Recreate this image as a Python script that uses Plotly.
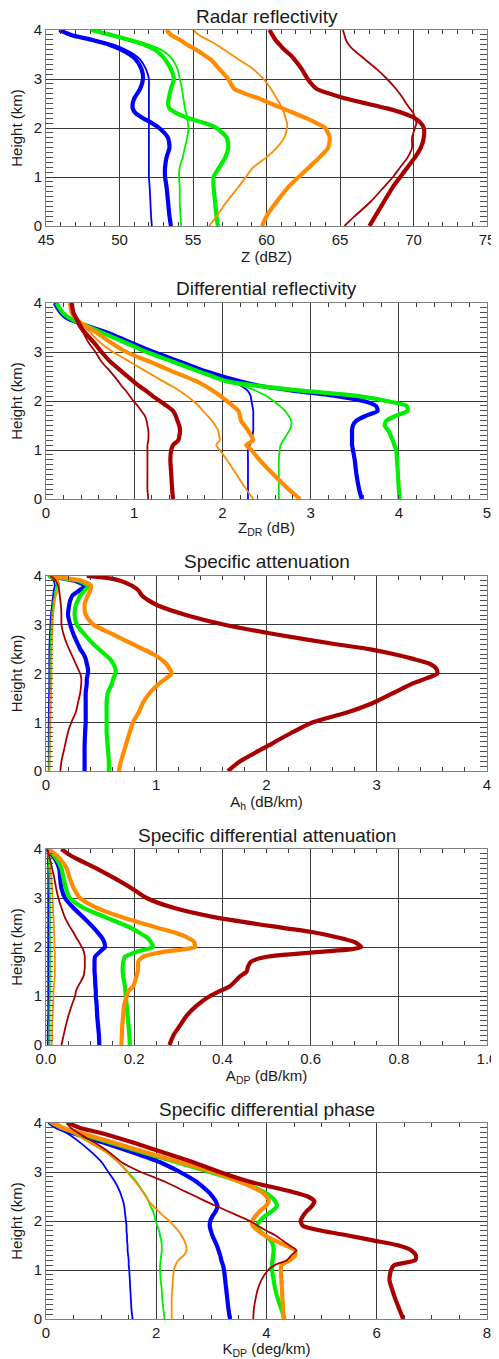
import plotly.graph_objects as go

# ---------------- Panel 1: Radar reflectivity (dBZ) ----------------
Z_HEIGHT = [4.0, 3.9, 3.8, 3.7, 3.6, 3.5, 3.4, 3.2, 3.0, 2.8, 2.6, 2.5, 2.4, 2.3, 2.2, 2.1, 2.0,
            1.8, 1.6, 1.4, 1.2, 1.0, 0.8, 0.5, 0.2, 0.0]
Z_BLUE_THIN = [45.9, 46.9, 48.3, 49.6, 50.4, 51.0, 51.4, 51.8, 52.0, 52.0, 52.0, 52.0, 52.0, 52.0, 52.0, 52.0, 52.0,
               52.0, 52.0, 52.0, 52.0, 52.0, 52.05, 52.1, 52.15, 52.2]
Z_BLUE_THICK = [45.9, 46.7, 48.1, 49.3, 50.1, 50.7, 51.1, 51.5, 51.6, 51.4, 51.0, 50.9, 50.9, 51.1, 51.6, 52.2, 52.7,
                53.3, 53.4, 53.2, 53.1, 53.1, 53.2, 53.3, 53.4, 53.5]
Z_GREEN_THIN = [48.1, 49.6, 50.9, 52.0, 52.8, 53.3, 53.6, 53.95, 54.1, 54.25, 54.35, 54.4, 54.45, 54.55, 54.6, 54.65, 54.7,
                54.6, 54.45, 54.3, 54.1, 54.05, 54.1, 54.1, 54.15, 54.2]
Z_GREEN_THICK = [48.1, 49.4, 50.6, 51.7, 52.4, 52.8, 53.1, 53.5, 53.7, 53.5, 53.35, 53.3, 53.4, 53.9, 54.7, 55.8, 56.6,
                 57.3, 57.4, 57.2, 56.8, 56.4, 56.4, 56.5, 56.6, 56.7]
Z_ORANGE_THIN = [55.0, 55.4, 56.0, 56.6, 57.1, 57.6, 58.1, 59.1, 59.8, 60.3, 60.7, 60.9, 61.05, 61.2, 61.3, 61.4, 61.4,
                 61.2, 60.7, 60.0, 59.1, 58.6, 58.1, 57.3, 56.6, 56.1]
Z_ORANGE_THICK = [53.2, 53.5, 54.1, 54.6, 55.2, 55.7, 56.2, 56.8, 57.4, 57.8, 59.5, 60.3, 61.1, 61.9, 62.7, 63.4, 64.0,
                  64.3, 64.2, 63.6, 62.9, 62.2, 61.5, 60.7, 60.0, 59.7]
Z_RED_THIN = [65.2, 65.3, 65.4, 65.6, 65.9, 66.3, 66.7, 67.5, 68.2, 68.8, 69.3, 69.5, 69.75, 70.0, 70.1, 70.2, 70.1,
              69.9, 69.9, 69.6, 69.1, 68.6, 68.0, 67.1, 66.0, 65.3]
Z_RED_THICK = [60.2, 60.4, 60.6, 60.9, 61.2, 61.6, 61.9, 62.4, 62.8, 63.4, 65.4, 66.8, 68.2, 69.3, 70.1, 70.5, 70.7,
               70.7, 70.5, 70.1, 69.6, 69.1, 68.6, 68.0, 67.4, 67.0]

# ---------------- Panel 2: Differential reflectivity (dB) ----------------
ZDR_HEIGHT = [4.0, 3.9, 3.8, 3.7, 3.6, 3.5, 3.4, 3.2, 3.0, 2.8, 2.6, 2.4, 2.3, 2.2, 2.1, 2.0, 1.9, 1.8, 1.7,
              1.6, 1.5, 1.4, 1.2, 1.1, 1.0, 0.8, 0.5, 0.2, 0.0]
ZDR_BLUE_THIN = [0.10, 0.13, 0.17, 0.23, 0.36, 0.52, 0.69, 0.95, 1.22, 1.52, 1.82, 2.12, 2.22, 2.29, 2.32, 2.33, 2.34, 2.35, 2.35,
                 2.35, 2.35, 2.35, 2.33, 2.31, 2.29, 2.29, 2.29, 2.29, 2.29]
ZDR_BLUE_THICK = [0.10, 0.13, 0.17, 0.23, 0.36, 0.52, 0.69, 0.95, 1.22, 1.52, 1.82, 2.20, 2.45, 2.85, 3.30, 3.60, 3.74, 3.76, 3.63,
                  3.52, 3.48, 3.47, 3.47, 3.47, 3.48, 3.50, 3.52, 3.55, 3.58]
ZDR_GREEN_THIN = [0.12, 0.15, 0.19, 0.26, 0.37, 0.50, 0.63, 0.89, 1.14, 1.44, 1.74, 2.05, 2.25, 2.39, 2.50, 2.58, 2.65, 2.71, 2.75,
                  2.78, 2.78, 2.76, 2.69, 2.66, 2.65, 2.64, 2.64, 2.64, 2.64]
ZDR_GREEN_THICK = [0.12, 0.15, 0.19, 0.26, 0.37, 0.50, 0.63, 0.89, 1.14, 1.44, 1.74, 2.05, 2.45, 2.95, 3.55, 3.86, 4.09, 4.10, 3.97,
                   3.86, 3.84, 3.88, 3.93, 3.95, 3.97, 3.98, 3.99, 4.00, 4.01]
ZDR_ORANGE_THIN = [0.27, 0.28, 0.29, 0.32, 0.37, 0.44, 0.50, 0.61, 0.76, 0.95, 1.14, 1.33, 1.43, 1.52, 1.60, 1.67, 1.73, 1.78, 1.83,
                   1.88, 1.92, 1.95, 1.97, 1.93, 1.97, 2.05, 2.16, 2.27, 2.35]
ZDR_ORANGE_THICK = [0.27, 0.28, 0.29, 0.33, 0.39, 0.48, 0.57, 0.73, 0.91, 1.18, 1.44, 1.71, 1.81, 1.90, 1.98, 2.05, 2.12, 2.18, 2.20,
                    2.21, 2.25, 2.29, 2.35, 2.27, 2.33, 2.42, 2.58, 2.75, 2.88]
ZDR_RED_THIN = [0.29, 0.30, 0.31, 0.33, 0.35, 0.38, 0.42, 0.48, 0.56, 0.63, 0.73, 0.82, 0.86, 0.91, 0.95, 0.99, 1.04, 1.08, 1.12,
                1.14, 1.15, 1.16, 1.16, 1.15, 1.15, 1.15, 1.15, 1.15, 1.16]
ZDR_RED_THICK = [0.29, 0.30, 0.31, 0.34, 0.37, 0.40, 0.44, 0.54, 0.63, 0.73, 0.86, 0.99, 1.06, 1.14, 1.21, 1.29, 1.37, 1.44, 1.47,
                 1.49, 1.51, 1.52, 1.50, 1.44, 1.42, 1.41, 1.42, 1.43, 1.44]

# ---------------- Panel 3: Specific attenuation (dB/km) ----------------
AH_HEIGHT = [4.0, 3.95, 3.9, 3.8, 3.7, 3.6, 3.5, 3.4, 3.2, 3.0, 2.8, 2.6, 2.5, 2.4, 2.3, 2.2, 2.1, 2.0, 1.9,
             1.8, 1.6, 1.4, 1.2, 1.0, 0.8, 0.5, 0.2, 0.0]
AH_BLUE_THIN = [0.02, 0.05, 0.07, 0.08, 0.07, 0.065, 0.06, 0.055, 0.045, 0.04, 0.035, 0.032, 0.03, 0.03, 0.03, 0.03, 0.03, 0.03, 0.03,
                0.03, 0.028, 0.027, 0.026, 0.025, 0.025, 0.025, 0.025, 0.025]
AH_BLUE_THICK = [0.02, 0.15, 0.26, 0.35, 0.30, 0.24, 0.22, 0.21, 0.20, 0.22, 0.25, 0.29, 0.31, 0.34, 0.36, 0.37, 0.38, 0.38, 0.37,
                 0.37, 0.36, 0.36, 0.36, 0.36, 0.355, 0.35, 0.35, 0.35]
AH_GREEN_THIN = [0.02, 0.06, 0.09, 0.10, 0.09, 0.08, 0.07, 0.065, 0.055, 0.05, 0.045, 0.043, 0.042, 0.041, 0.04, 0.04, 0.04, 0.04, 0.04,
                 0.04, 0.038, 0.036, 0.035, 0.034, 0.033, 0.032, 0.031, 0.03]
AH_GREEN_THICK = [0.02, 0.17, 0.30, 0.38, 0.35, 0.31, 0.29, 0.27, 0.26, 0.28, 0.35, 0.43, 0.48, 0.53, 0.58, 0.61, 0.63, 0.63, 0.61,
                  0.60, 0.56, 0.55, 0.55, 0.55, 0.55, 0.56, 0.57, 0.57]
AH_ORANGE_THIN = [0.03, 0.08, 0.11, 0.12, 0.11, 0.09, 0.08, 0.075, 0.065, 0.06, 0.055, 0.053, 0.052, 0.051, 0.05, 0.05, 0.05, 0.05, 0.05,
                  0.048, 0.046, 0.044, 0.042, 0.04, 0.038, 0.035, 0.032, 0.03]
AH_ORANGE_THICK = [0.03, 0.20, 0.33, 0.41, 0.40, 0.38, 0.36, 0.35, 0.36, 0.43, 0.61, 0.79, 0.88, 0.97, 1.04, 1.09, 1.12, 1.14, 1.09,
                   1.03, 0.94, 0.88, 0.84, 0.79, 0.76, 0.72, 0.68, 0.66]
AH_RED_THIN = [0.04, 0.07, 0.09, 0.11, 0.12, 0.125, 0.13, 0.135, 0.14, 0.14, 0.16, 0.19, 0.21, 0.23, 0.25, 0.27, 0.29, 0.31, 0.32,
               0.32, 0.31, 0.29, 0.27, 0.23, 0.20, 0.17, 0.14, 0.13]
AH_RED_THICK = [0.37, 0.58, 0.68, 0.78, 0.84, 0.87, 0.93, 1.01, 1.27, 1.62, 2.09, 2.63, 2.93, 3.15, 3.33, 3.48, 3.54, 3.55, 3.45,
                3.33, 3.15, 2.97, 2.73, 2.42, 2.24, 2.00, 1.76, 1.65]

# ---------------- Panel 4: Specific differential attenuation (dB/km) ----------------
ADP_HEIGHT = [4.0, 3.9, 3.8, 3.6, 3.4, 3.2, 3.0, 2.8, 2.6, 2.4, 2.3, 2.2, 2.1, 2.0, 1.95, 1.9, 1.8, 1.7, 1.6,
              1.5, 1.4, 1.2, 1.1, 1.0, 0.8, 0.6, 0.4, 0.2, 0.0]
ADP_BLUE_THIN = [0.003, 0.004, 0.004, 0.005, 0.005, 0.005, 0.005, 0.005, 0.005, 0.005, 0.005, 0.005, 0.005, 0.005, 0.005, 0.005,
                 0.005, 0.005, 0.005, 0.005, 0.005, 0.005, 0.005, 0.005, 0.005, 0.005, 0.004, 0.004, 0.004]
ADP_BLUE_THICK = [0.003, 0.012, 0.020, 0.030, 0.032, 0.035, 0.043, 0.062, 0.085, 0.107, 0.117, 0.126, 0.132, 0.134, 0.128, 0.122,
                  0.111, 0.110, 0.110, 0.110, 0.111, 0.112, 0.113, 0.113, 0.115, 0.116, 0.118, 0.120, 0.121]
ADP_GREEN_THIN = [0.003, 0.005, 0.006, 0.007, 0.008, 0.008, 0.009, 0.009, 0.009, 0.009, 0.009, 0.009, 0.009, 0.009, 0.009, 0.009,
                  0.009, 0.009, 0.009, 0.009, 0.009, 0.009, 0.009, 0.009, 0.008, 0.008, 0.008, 0.008, 0.008]
ADP_GREEN_THICK = [0.005, 0.015, 0.024, 0.035, 0.040, 0.045, 0.054, 0.085, 0.137, 0.190, 0.210, 0.228, 0.238, 0.243, 0.225, 0.205,
                   0.179, 0.175, 0.174, 0.174, 0.175, 0.179, 0.180, 0.181, 0.183, 0.185, 0.187, 0.189, 0.190]
ADP_ORANGE_THIN = [0.003, 0.006, 0.008, 0.010, 0.012, 0.014, 0.015, 0.016, 0.017, 0.018, 0.018, 0.019, 0.019, 0.019, 0.019, 0.020,
                   0.020, 0.020, 0.020, 0.020, 0.020, 0.018, 0.017, 0.017, 0.016, 0.015, 0.014, 0.014, 0.013]
ADP_ORANGE_THICK = [0.005, 0.020, 0.032, 0.047, 0.054, 0.063, 0.077, 0.115, 0.175, 0.250, 0.290, 0.319, 0.336, 0.338, 0.310, 0.266,
                    0.220, 0.209, 0.209, 0.208, 0.205, 0.198, 0.187, 0.183, 0.177, 0.175, 0.173, 0.172, 0.171]
ADP_RED_THIN = [0.003, 0.006, 0.009, 0.014, 0.019, 0.023, 0.028, 0.035, 0.043, 0.055, 0.062, 0.068, 0.075, 0.081, 0.084, 0.086,
                0.088, 0.088, 0.088, 0.087, 0.085, 0.073, 0.068, 0.066, 0.058, 0.051, 0.045, 0.040, 0.035]
ADP_RED_THICK = [0.035, 0.050, 0.070, 0.115, 0.156, 0.194, 0.228, 0.289, 0.387, 0.530, 0.606, 0.659, 0.700, 0.715, 0.690, 0.620,
                 0.500, 0.465, 0.458, 0.455, 0.440, 0.417, 0.394, 0.372, 0.341, 0.319, 0.304, 0.289, 0.280]

# ---------------- Panel 5: Specific differential phase (deg/km) ----------------
KDP_HEIGHT = [4.0, 3.9, 3.8, 3.6, 3.4, 3.2, 3.0, 2.8, 2.6, 2.5, 2.4, 2.3, 2.2, 2.1, 2.0, 1.9, 1.8, 1.7, 1.6,
              1.5, 1.4, 1.3, 1.2, 1.1, 1.0, 0.8, 0.6, 0.4, 0.2, 0.0]
KDP_BLUE_THIN = [0.04, 0.18, 0.37, 0.62, 0.83, 1.01, 1.13, 1.25, 1.34, 1.37, 1.40, 1.42, 1.43, 1.44, 1.45, 1.46, 1.46, 1.47, 1.47,
                 1.48, 1.48, 1.49, 1.50, 1.50, 1.51, 1.52, 1.53, 1.54, 1.55, 1.57]
KDP_BLUE_THICK = [0.07, 0.22, 0.47, 1.04, 1.58, 2.07, 2.43, 2.73, 2.94, 3.02, 3.08, 3.11, 3.08, 3.02, 2.98, 2.97, 2.99, 3.02, 3.06,
                  3.10, 3.13, 3.16, 3.18, 3.21, 3.23, 3.25, 3.27, 3.29, 3.31, 3.34]
KDP_GREEN_THIN = [0.07, 0.25, 0.47, 0.80, 1.10, 1.31, 1.49, 1.64, 1.76, 1.82, 1.86, 1.90, 1.94, 1.97, 1.99, 2.02, 2.05, 2.07, 2.09,
                  2.10, 2.10, 2.09, 2.08, 2.07, 2.07, 2.08, 2.10, 2.11, 2.13, 2.15]
KDP_GREEN_THICK = [0.13, 0.28, 0.56, 1.16, 1.76, 2.37, 2.97, 3.52, 3.94, 4.08, 4.16, 4.19, 4.10, 3.97, 3.88, 3.82, 3.88, 3.98, 4.08,
                   4.12, 4.13, 4.12, 4.11, 4.10, 4.10, 4.13, 4.16, 4.21, 4.27, 4.33]
KDP_ORANGE_THIN = [0.07, 0.25, 0.47, 0.80, 1.10, 1.31, 1.47, 1.62, 1.75, 1.81, 1.87, 1.95, 2.04, 2.13, 2.24, 2.32, 2.40, 2.46, 2.51,
                   2.54, 2.55, 2.50, 2.40, 2.35, 2.32, 2.30, 2.29, 2.28, 2.28, 2.28]
KDP_ORANGE_THICK = [0.16, 0.31, 0.62, 1.22, 1.82, 2.43, 3.03, 3.52, 3.90, 4.00, 4.04, 3.98, 3.88, 3.80, 3.74, 3.75, 3.85, 3.98, 4.15,
                    4.35, 4.52, 4.52, 4.42, 4.27, 4.26, 4.27, 4.28, 4.29, 4.30, 4.31]
KDP_RED_THIN = [0.37, 0.45, 0.58, 0.88, 1.15, 1.37, 1.72, 2.16, 2.53, 2.72, 2.90, 3.10, 3.30, 3.50, 3.70, 3.85, 4.00, 4.17, 4.29,
                4.42, 4.54, 4.45, 4.37, 4.15, 4.03, 3.91, 3.84, 3.80, 3.77, 3.76]
KDP_RED_THICK = [0.40, 0.62, 0.98, 1.58, 2.13, 2.67, 3.15, 3.70, 4.45, 4.75, 4.87, 4.82, 4.73, 4.66, 4.62, 4.66, 5.00, 5.50, 5.95,
                 6.40, 6.63, 6.71, 6.70, 6.32, 6.26, 6.23, 6.28, 6.34, 6.41, 6.48]

# ---------------- Axis labels ----------------
PANEL_TITLES = ["Radar reflectivity", "Differential reflectivity", "Specific attenuation",
                "Specific differential attenuation", "Specific differential phase"]
X_TITLES = ["Z (dBZ)", "Z<sub>DR</sub> (dB)", "A<sub>h</sub> (dB/km)", "A<sub>DP</sub> (dB/km)", "K<sub>DP</sub> (deg/km)"]
Y_TITLE = "Height (km)"
X_RANGES = [[45, 75], [0, 5], [0, 4], [0, 1.0], [0, 8]]
X_DTICKS = [5, 1, 1, 0.2, 2]
X_MINOR = [1, 0.2, 0.2, 0.05, 0.5]
X_FORMATS = ["d", "d", "d", ".1f", "d"]

BLUE = "#0000ff"
GREEN = "#00ee00"
ORANGE = "#ff8c00"
RED = "#a80000"
THIN = 1.8
THICK = 4.2

panels = [
    (Z_HEIGHT, [Z_BLUE_THIN, Z_BLUE_THICK, Z_GREEN_THIN, Z_GREEN_THICK,
                Z_ORANGE_THIN, Z_ORANGE_THICK, Z_RED_THIN, Z_RED_THICK]),
    (ZDR_HEIGHT, [ZDR_BLUE_THIN, ZDR_BLUE_THICK, ZDR_GREEN_THIN, ZDR_GREEN_THICK,
                  ZDR_ORANGE_THIN, ZDR_ORANGE_THICK, ZDR_RED_THIN, ZDR_RED_THICK]),
    (AH_HEIGHT, [AH_BLUE_THIN, AH_BLUE_THICK, AH_GREEN_THIN, AH_GREEN_THICK,
                 AH_ORANGE_THIN, AH_ORANGE_THICK, AH_RED_THIN, AH_RED_THICK]),
    (ADP_HEIGHT, [ADP_BLUE_THIN, ADP_BLUE_THICK, ADP_GREEN_THIN, ADP_GREEN_THICK,
                  ADP_ORANGE_THIN, ADP_ORANGE_THICK, ADP_RED_THIN, ADP_RED_THICK]),
    (KDP_HEIGHT, [KDP_BLUE_THIN, KDP_BLUE_THICK, KDP_GREEN_THIN, KDP_GREEN_THICK,
                  KDP_ORANGE_THIN, KDP_ORANGE_THICK, KDP_RED_THIN, KDP_RED_THICK]),
]
styles = [(BLUE, THIN), (BLUE, THICK), (GREEN, THIN), (GREEN, THICK),
          (ORANGE, THIN), (ORANGE, THICK), (RED, THIN), (RED, THICK)]

# The page body has an 8 px margin, so the figure is sized to fit the window.
PAGE_OFF = 8
W, H = 499 - PAGE_OFF, 1359 - PAGE_OFF
ML, MR, MT, MB = 46 - PAGE_OFF, 12, 30 - PAGE_OFF, 40
plot_h = H - MT - MB
# page-pixel top/bottom of each plot frame
frames = [(30, 226), (303, 499), (576, 771), (849, 1045), (1123, 1319)]
domains = [[1 - (b - PAGE_OFF - MT) / plot_h, 1 - (t - PAGE_OFF - MT) / plot_h] for t, b in frames]
domains = [[max(0.0, d0), min(1.0, d1)] for d0, d1 in domains]

FONT = "Liberation Sans, Arial, Helvetica, sans-serif"
TXT = "#1a1a1a"
GRID = "#3a3a3a"
FRAME = "#808080"

fig = go.Figure()
layout = dict(
    width=W, height=H,
    margin=dict(l=ML, r=MR, t=MT, b=MB, autoexpand=False),
    paper_bgcolor="white", plot_bgcolor="white",
    showlegend=False,
    font=dict(family=FONT, size=15, color=TXT),
)
annotations = []
for i, (hgt, series) in enumerate(panels):
    n = i + 1
    xa = "x" if n == 1 else f"x{n}"
    ya = "y" if n == 1 else f"y{n}"
    for vals, (col, w) in zip(series, styles):
        fig.add_trace(go.Scatter(
            x=vals, y=hgt, mode="lines", xaxis=xa, yaxis=ya,
            line=dict(color=col, width=w, shape="spline", smoothing=0.6),
            hoverinfo="skip"))
    xkey = "xaxis" if n == 1 else f"xaxis{n}"
    ykey = "yaxis" if n == 1 else f"yaxis{n}"
    layout[xkey] = dict(
        domain=[0, 1], anchor=ya, range=X_RANGES[i], tick0=X_RANGES[i][0], dtick=X_DTICKS[i],
        tickformat=X_FORMATS[i], automargin=False,
        showgrid=True, gridcolor=GRID, gridwidth=1, zeroline=False,
        showline=True, linecolor=FRAME, linewidth=1, mirror="ticks",
        ticks="inside", ticklen=4, tickcolor=GRID,
        minor=dict(dtick=X_MINOR[i], tick0=X_RANGES[i][0], ticks="inside", ticklen=4,
                   tickcolor=GRID, showgrid=False),
        tickfont=dict(family=FONT, size=15, color=TXT),
        title=dict(text=X_TITLES[i], font=dict(family=FONT, size=15, color=TXT), standoff=2),
    )
    layout[ykey] = dict(
        domain=domains[i], anchor=xa, range=[0, 4], tick0=0, dtick=1, automargin=False,
        showgrid=True, gridcolor=GRID, gridwidth=1, zeroline=False,
        showline=True, linecolor=FRAME, linewidth=1, mirror="ticks",
        ticks="inside", ticklen=7, tickcolor=GRID,
        minor=dict(dtick=0.1, tick0=0, ticks="inside", ticklen=7, tickcolor="#505050", showgrid=False),
        tickfont=dict(family=FONT, size=15, color=TXT),
        title=dict(text=Y_TITLE, font=dict(family=FONT, size=15, color=TXT), standoff=9),
    )
    annotations.append(dict(
        text=PANEL_TITLES[i], xref="paper", yref="paper", x=0.5, y=domains[i][1],
        xanchor="center", yanchor="middle", yshift=14, showarrow=False,
        font=dict(family=FONT, size=19, color=TXT)))

layout["annotations"] = annotations
fig.update_layout(**layout)
fig.write_html("out.html")
